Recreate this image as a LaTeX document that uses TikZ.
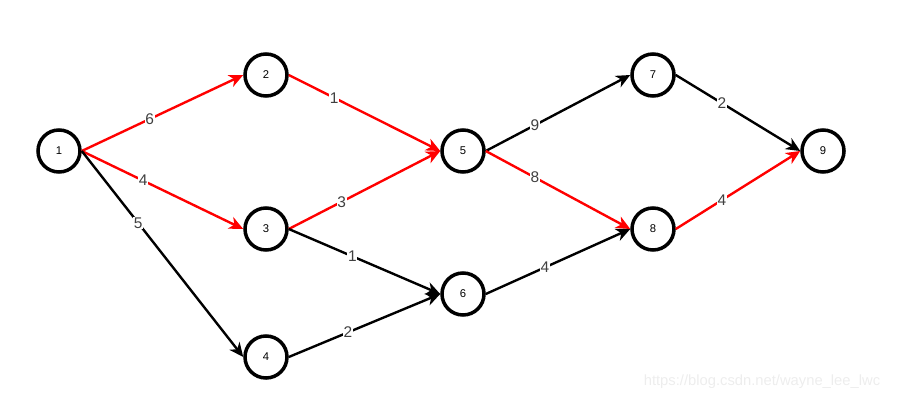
\documentclass[tikz,border=0pt]{standalone}
\usepackage{fontspec}
\setmainfont{Liberation Sans}
\usetikzlibrary{arrows.meta}

\tikzset{
  event/.style={circle, draw, line width=2.5pt, minimum size=1.05cm, inner sep=0pt, font=\fontsize{8}{9}\selectfont},
  act/.style={line width=1.7pt, -{Stealth[length=10pt,width=9pt,inset=3pt]}},
  crit/.style={act, red},
  wt/.style={fill=white, inner sep=0.5pt, font=\fontsize{11}{12}\selectfont, text=black!75}
}

\begin{document}
\begin{tikzpicture}[x=0.025cm,y=-0.025cm]
\useasboundingbox (0,0) rectangle (900,400);
% events
\node[event] (n1) at (59,151) {1};
\node[event] (n2) at (266,75) {2};
\node[event] (n3) at (266,229) {3};
\node[event] (n4) at (266,357) {4};
\node[event] (n5) at (463,151) {5};
\node[event] (n6) at (463,294) {6};
\node[event] (n7) at (653,75) {7};
\node[event] (n8) at (653,229) {8};
\node[event] (n9) at (823,151) {9};
% activities
\draw[crit] (n1.east) -- node[wt, pos=0.42] {6} (n2.west);
\draw[crit] (n1.east) -- node[wt, pos=0.38] {4} (n3.west);
\draw[act] (n1.east) -- node[wt, pos=0.35] {5} (n4.west);
\draw[crit] (n2.east) -- node[wt, pos=0.3] {1} (n5.west);
\draw[crit] (n3.east) -- node[wt, pos=0.35] {3} (n5.west);
\draw[act] (n3.east) -- node[wt, pos=0.42] {1} (n6.west);
\draw[act] (n4.east) -- node[wt, pos=0.39] {2} (n6.west);
\draw[act] (n5.east) -- node[wt, pos=0.34] {9} (n7.west);
\draw[crit] (n5.east) -- node[wt, pos=0.34] {8} (n8.west);
\draw[act] (n6.east) -- node[wt, pos=0.41] {4} (n8.west);
\draw[act] (n7.east) -- node[wt, pos=0.37] {2} (n9.west);
\draw[crit] (n8.east) -- node[wt, pos=0.37] {4} (n9.west);
% watermark
\node[text=black!7, font=\fontsize{10.5}{12}\selectfont] (wm) at (762,382) {https://blog.csdn.net/wayne\_lee\_lwc};
\end{tikzpicture}
\end{document}
